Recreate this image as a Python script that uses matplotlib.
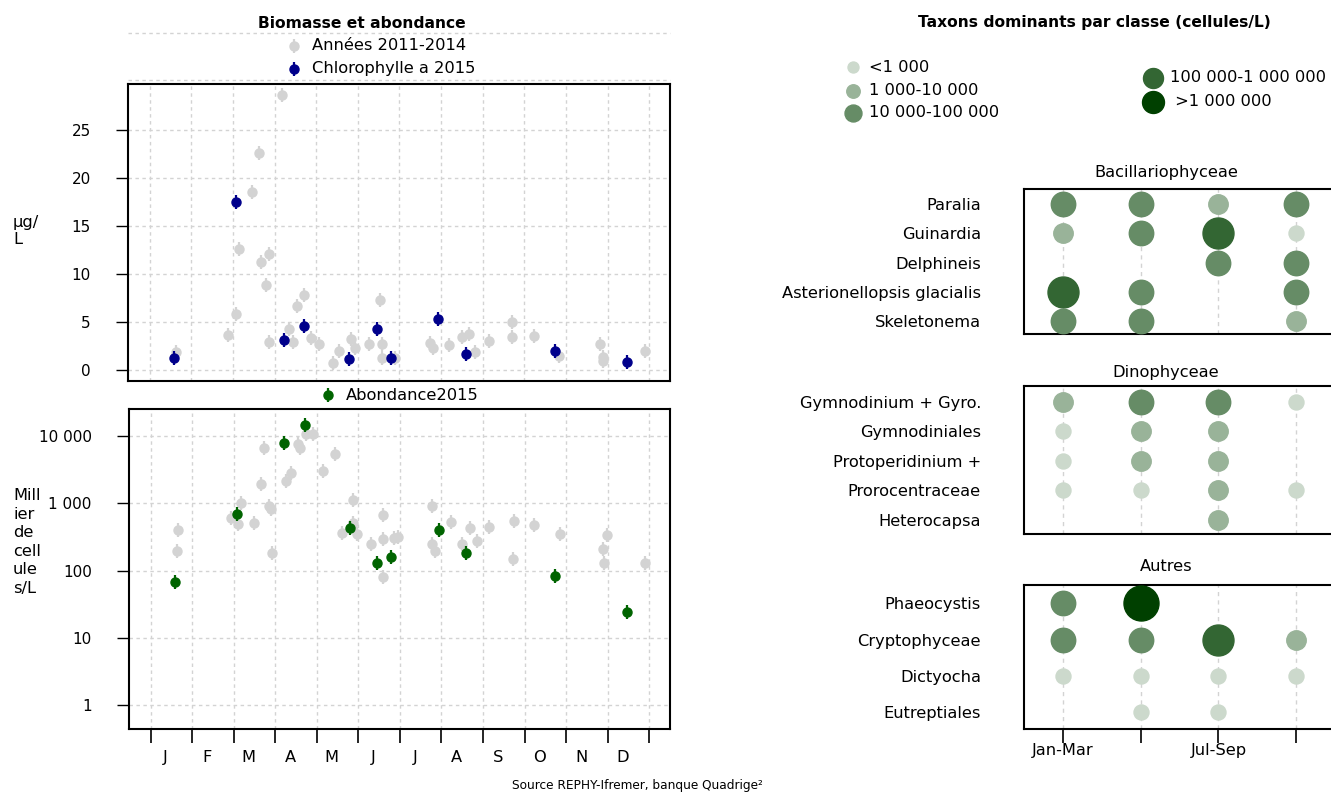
import matplotlib
matplotlib.use("Agg")
import matplotlib.pyplot as plt
import numpy as np

plt.rcParams['font.family'] = ['DejaVu Sans']
plt.rcParams['font.size'] = 11.7

# ---- data : left panels (x = day of year) ----
months = ['J', 'F', 'M', 'A', 'M', 'J', 'J', 'A', 'S', 'O', 'N', 'D']

chl_days_hist = [20, 58, 64, 66, 76, 81, 82, 86, 88, 88, 98, 103, 106, 109, 114, 119, 125, 135, 139, 148,
                 151, 161, 169, 171, 171, 180, 206, 208, 220, 229, 234, 239, 249, 266, 266, 282, 300, 330,
                 332, 332, 363]
chl_vals_hist = [1.9, 3.6, 5.8, 12.6, 18.5, 22.6, 11.3, 8.9, 12.1, 2.9, 28.6, 4.3, 2.9, 6.7, 7.8, 3.3, 2.7,
                 0.7, 2.0, 3.2, 2.3, 2.7, 7.3, 2.7, 1.3, 1.3, 2.8, 2.3, 2.6, 3.4, 3.7, 1.9, 3.0, 3.4, 5.0,
                 3.5, 1.5, 2.7, 1.4, 0.9, 2.0]

ab_days_hist = [21, 20, 60, 65, 67, 77, 84, 82, 88, 89, 90, 100, 104, 109, 110, 115, 120, 127, 136, 141,
                149, 149, 152, 162, 171, 171, 171, 179, 182, 207, 207, 209, 221, 229, 235, 240, 249, 266,
                267, 282, 301, 332, 333, 335, 363]
ab_vals_hist = [409, 193, 615, 497, 1016, 507, 6800, 1946, 906, 837, 186, 2180, 2830, 7710, 6650, 10700,
                10700, 3030, 5480, 369, 1127, 513, 352, 251, 666, 293, 80, 303, 322, 927, 253, 193, 531,
                251, 433, 277, 453, 150, 550, 484, 348, 211, 132, 341, 132]

days_2015 = [19, 64, 99, 114, 147, 167, 177, 212, 232, 297, 350]
chl_2015 = [1.2, 17.5, 3.1, 4.6, 1.1, 4.3, 1.3, 5.3, 1.7, 2.0, 0.8]
ab_2015 = [68, 700, 7900, 14900, 433, 131, 159, 407, 186, 82, 24]

chl_ticks = [0, 5, 10, 15, 20, 25]
ab_ticks = [1, 10, 100, 1000, 10000]
ab_ticklabels = ['1', '10', '100', '1 000', '10 000']

# ---- data : right panels (class index per quarter, None = absent) ----
quarters = ['Jan-Mar', 'Apr-Jun', 'Jul-Sep', 'Oct-Dec']
classes = ['<1 000', '1 000-10 000', '10 000-100 000', '100 000-1 000 000', ' >1 000 000']

bac_taxa = ['Paralia', 'Guinardia', 'Delphineis', 'Asterionellopsis glacialis', 'Skeletonema']
bac_cls = [[2, 2, 1, 2], [1, 2, 3, 0], [None, None, 2, 2], [3, 2, None, 2], [2, 2, None, 1]]

dino_taxa = ['Gymnodinium + Gyro.', 'Gymnodiniales', 'Protoperidinium +', 'Prorocentraceae', 'Heterocapsa']
dino_cls = [[1, 2, 2, 0], [0, 1, 1, None], [0, 1, 1, None], [0, 0, 1, 0], [None, None, 1, None]]

aut_taxa = ['Phaeocystis', 'Cryptophyceae', 'Dictyocha', 'Eutreptiales']
aut_cls = [[2, 4, None, None], [2, 2, 3, 1], [0, 0, 0, 0], [None, 0, 0, None]]

# ---- styles ----
W, H = 1331, 794
grey = '#D3D3D3'
blue = '#00008B'
green = '#006400'
cls_colors = ['#CCD9CC', '#99B399', '#668C66', '#336633', '#004000']
cls_ms = [10.8, 14, 17.6, 22.3, 25.2]
leg_ms = [7.9, 9.7, 12.2, 14.4, 15.8]
dots = (0, (2.5, 2.5))


def box(l, t, r, b):
    return [l / W, 1 - b / H, (r - l) / W, (b - t) / H]


def mpos(d):
    # day of year -> month units (12 equal months)
    return (np.asarray(d) - 1) / (365 / 12)


def pts(ax, x, y, c, ms=6.5):
    ax.plot(x, y, 'o', color=c, ms=ms, mec=c, ls='none', zorder=3)
    ax.plot(x, y, '|', color=c, ms=ms * 1.55, mew=1.6, ls='none', zorder=3)


fig = plt.figure(figsize=(W / 100, H / 100), dpi=100)

# overlay in pixel coordinates for legends / texts
ov = fig.add_axes([0, 0, 1, 1], zorder=10)
ov.set_xlim(0, W)
ov.set_ylim(H, 0)
ov.axis('off')
ov.patch.set_alpha(0)

# ---- top panel : chlorophylle ----
ax1 = fig.add_axes(box(128, 84, 670, 381))
pts(ax1, mpos(chl_days_hist), chl_vals_hist, grey)
pts(ax1, mpos(days_2015), chl_2015, blue)
ax1.set_xlim(-0.52, 12.5)
ax1.set_ylim(-1.146, 29.79)
ax1.set_xticks(range(13))
ax1.set_yticks(chl_ticks)
ax1.tick_params(axis='x', length=0, labelbottom=False)
ax1.tick_params(axis='y', length=8.3, width=1, pad=18.5, labelsize=11)
ax1.grid(True, color=grey, ls=dots, lw=1)
for s in ax1.spines.values():
    s.set_linewidth(1.5)

# ---- bottom panel : abondance ----
ax2 = fig.add_axes(box(129, 409, 670, 729))
pts(ax2, mpos(ab_days_hist), ab_vals_hist, grey)
pts(ax2, mpos(days_2015), ab_2015, green)
ax2.set_yscale('log')
ax2.set_xlim(-0.52, 12.5)
ax2.set_ylim(10 ** -0.356, 10 ** 4.406)
ax2.set_yticks(ab_ticks, ab_ticklabels)
ax2.yaxis.set_minor_locator(matplotlib.ticker.NullLocator())
ax2.set_xticks(range(13))
ax2.set_xticklabels([])
ax2.set_xticks(np.arange(12) + 0.36, months, minor=True)
ax2.tick_params(axis='x', which='major', length=10, width=1.2)
ax2.tick_params(axis='x', which='minor', length=0, pad=15)
ax2.tick_params(axis='y', length=8.3, width=1, pad=18.5, labelsize=11)
ax2.grid(True, which='major', color=grey, ls=dots, lw=1)
for s in ax2.spines.values():
    s.set_linewidth(1.5)

# left texts / legends
fig.text(13 / W, 1 - 231 / H, 'µg/\nL', ha='left', va='center', linespacing=1.1)
fig.text(13 / W, 1 - 542 / H, 'Mill\nier\nde\ncell\nule\ns/L', ha='left', va='center', linespacing=1.3)
ov.text(362, 23, 'Biomasse et abondance', ha='center', va='center', fontweight='bold', fontsize=11.2)
ov.plot([128, 670], [33, 33], color=grey, ls=dots, lw=1)
ov.plot([128, 670], [80, 80], color=grey, ls=dots, lw=1)
pts(ov, [293.6], [45.5], grey)
ov.text(311.5, 45.5, 'Années 2011-2014', va='center')
pts(ov, [293.6], [69], blue)
ov.text(311.5, 69, 'Chlorophylle a 2015', va='center')
pts(ov, [328], [395], green)
ov.text(346, 395, 'Abondance2015', va='center')
ov.text(637.5, 786, 'Source REPHY-Ifremer, banque Quadrige²', ha='center', va='center', fontsize=8.7)

# ---- right panels ----
ov.text(1094, 23, 'Taxons dominants par classe (cellules/L)', ha='center', va='center',
        fontweight='bold', fontsize=11.2)
leg_pos = [(853, 869, 67), (853, 869, 90.5), (853, 869, 112.5), (1152.6, 1170, 77.7), (1152.6, 1170, 101.7)]
for k, (mx, tx, ty) in enumerate(leg_pos):
    ov.plot([mx], [ty], 'o', color=cls_colors[k], ms=leg_ms[k], mec=cls_colors[k])
    ov.text(tx, ty, classes[k], va='center')

groups = [('Bacillariophyceae', bac_taxa, bac_cls, (189, 334), (0.57, 5.51), 173),
          ('Dinophyceae', dino_taxa, dino_cls, (386, 534), (0.525, 5.54), 372),
          ('Autres', aut_taxa, aut_cls, (585, 729), (0.545, 4.5), 566.7)]

for gi, (gname, taxa, cls, (top, bot), ylim, ty) in enumerate(groups):
    ax = fig.add_axes(box(1024, top, 1335, bot))
    n = len(taxa)
    for q in range(4):
        ax.axvline(q + 1, color=grey, ls=(0, (3, 3)), lw=1, zorder=1)
    for i, row in enumerate(cls):
        for q, c in enumerate(row):
            if c is None:
                continue
            ax.plot(q + 1, n - i, 'o', color=cls_colors[c], ms=cls_ms[c], mec=cls_colors[c],
                    zorder=3, clip_on=False)
    ax.set_xlim(0.5, 4.5)
    ax.set_ylim(*ylim)
    ax.set_yticks(np.arange(n, 0, -1), taxa)
    ax.tick_params(axis='y', length=0, pad=31)
    for s in ax.spines.values():
        s.set_linewidth(1.5)
    if gi == 2:
        ax.set_xticks(range(1, 5), [qq if k % 2 == 0 else '' for k, qq in enumerate(quarters)])
        ax.tick_params(axis='x', length=10, width=1.2, pad=0)
    else:
        ax.set_xticks([])
    fig.text(1166 / W, 1 - ty / H, gname, ha='center', va='center')

fig.savefig('out.png', dpi=100)
